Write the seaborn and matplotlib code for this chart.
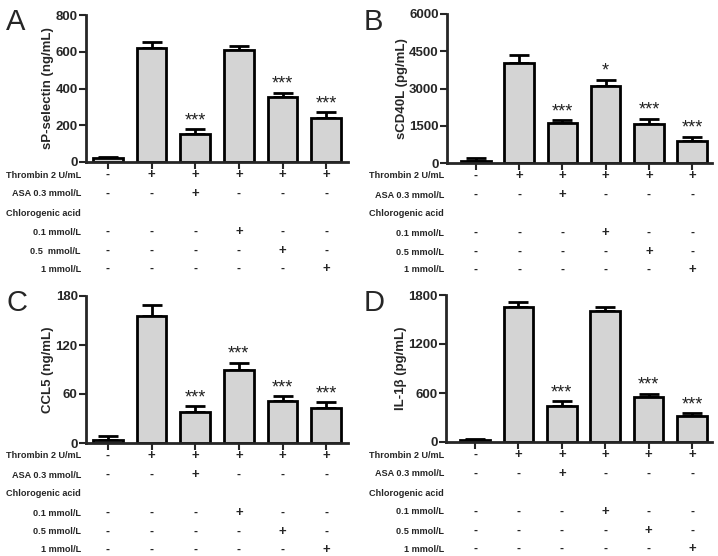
import numpy as np
import pandas as pd
import matplotlib
matplotlib.use("Agg")
import matplotlib.pyplot as plt
import seaborn as sns
from matplotlib.transforms import blended_transform_factory

# --- data ---
groups = ["Ctrl", "Thr", "Thr+ASA", "Thr+CGA0.1", "Thr+CGA0.5", "Thr+CGA1"]

sp_selectin = [20, 620, 150, 607, 355, 240]
sp_selectin_err = [7, 32, 28, 23, 21, 32]
sp_selectin_sig = ["", "", "***", "", "***", "***"]

scd40l = [95, 4020, 1607, 3120, 1580, 900]
scd40l_err = [100, 330, 107, 228, 200, 148]
scd40l_sig = ["", "", "***", "*", "***", "***"]

ccl5 = [4, 156, 38, 89, 51, 43]
ccl5_err = [4, 13, 7, 9, 6, 7]
ccl5_sig = ["", "", "***", "***", "***", "***"]

il1b = [25, 1653, 442, 1604, 555, 322]
il1b_err = [12, 61, 56, 45, 37, 29]
il1b_sig = ["", "", "***", "", "***", "***"]

# treatment table under each panel
thrombin = ["-", "+", "+", "+", "+", "+"]
asa = ["-", "-", "+", "-", "-", "-"]
cga_01 = ["-", "-", "-", "+", "-", "-"]
cga_05 = ["-", "-", "-", "-", "+", "-"]
cga_1 = ["-", "-", "-", "-", "-", "+"]
row_labels_a = ["Thrombin 2 U/mL", "ASA 0.3 mmol/L", "Chlorogenic acid",
                "0.1 mmol/L", "0.5  mmol/L", "1 mmol/L"]
row_labels = ["Thrombin 2 U/mL", "ASA 0.3 mmol/L", "Chlorogenic acid",
              "0.1 mmol/L", "0.5 mmol/L", "1 mmol/L"]
row_signs = [thrombin, asa, None, cga_01, cga_05, cga_1]

sns.set_style("ticks")
plt.rcParams['font.family'] = ['Liberation Sans', 'DejaVu Sans']

W, H = 718, 556
fig = plt.figure(figsize=(W / 100, H / 100), dpi=100)


def px_axes(left, top, right, bottom):
    return fig.add_axes([left / W, 1 - bottom / H, (right - left) / W, (bottom - top) / H])


panels = [
    # letter, values, err, sig, ylabel, ymax, step, rect(l,t,r,b), xlim, labels, label_x, letter_xy
    ("A", sp_selectin, sp_selectin_err, sp_selectin_sig, "sP-selectin (ng/mL)", 800, 200,
     (86, 15, 348, 162), (-0.5, 5.5), row_labels_a, 81, (6, 30)),
    ("B", scd40l, scd40l_err, scd40l_sig, "sCD40L (pg/mL)", 6000, 1500,
     (447, 14, 712, 163), (-0.67, 5.46), row_labels, 444, (364, 30)),
    ("C", ccl5, ccl5_err, ccl5_sig, "CCL5 (ng/mL)", 180, 60,
     (86, 296, 348, 443), (-0.5, 5.5), row_labels, 81, (6, 311)),
    ("D", il1b, il1b_err, il1b_sig, "IL-1\u03b2 (pg/mL)", 1800, 600,
     (446, 295, 712, 442), (-0.67, 5.46), row_labels, 444, (364, 311)),
]

row_offsets = [13, 32, 51, 70, 89, 107]

for letter, vals, errs, sigs, ylab, ymax, step, rect, xlim, labels, lab_x, lxy in panels:
    ax = px_axes(*rect)
    df = pd.DataFrame({"group": groups, "value": vals})
    sns.barplot(data=df, x="group", y="value", color="#d4d4d4", saturation=1,
                edgecolor="black", linewidth=2, width=0.68, errorbar=None, ax=ax, zorder=2)
    x = np.arange(len(groups))
    ax.errorbar(x, vals, yerr=[np.zeros(len(vals)), errs], fmt="none", ecolor="black",
                elinewidth=2, capsize=7, capthick=2, zorder=1)
    for i, (v, e, s) in enumerate(zip(vals, errs, sigs)):
        if s:
            ax.annotate(s, (i, v + e), xytext=(0, 0), textcoords="offset points",
                        ha="center", va="bottom", fontsize=13, color="#222222")

    ax.set_xlim(*xlim)
    ax.set_ylim(0, ymax)
    ax.set_yticks(np.arange(0, ymax + 1, step))
    ax.set_xticks(x)
    ax.set_xticklabels([])
    ax.set_xlabel("")
    ax.set_ylabel(ylab, fontsize=9.5, fontweight="bold", labelpad=1)
    for lbl in ax.get_yticklabels():
        lbl.set_fontweight("bold")
    ax.tick_params(axis="y", labelsize=9.5, length=5, width=1.5, pad=1)
    ax.tick_params(axis="x", length=5, width=1.5)
    sns.despine(ax=ax)
    for sp in ["left", "bottom"]:
        ax.spines[sp].set_linewidth(2)

    # panel letter
    fig.text(lxy[0] / W, 1 - lxy[1] / H, letter, fontsize=21, ha="left", va="baseline")

    # treatment table
    trans = blended_transform_factory(ax.transData, fig.transFigure)
    base = rect[3]
    for off, lab, signs in zip(row_offsets, labels, row_signs):
        yf = 1 - (base + off) / H
        fig.text(lab_x / W, yf, lab, ha="right", va="center", fontsize=6.6, fontweight="bold")
        if signs is None:
            continue
        for i, s in enumerate(signs):
            ax.text(i, yf, s, transform=trans, ha="center", va="center",
                    fontsize=9.5 if s == "+" else 8.5, fontweight="bold", clip_on=False)

fig.savefig("out.png", dpi=100)
